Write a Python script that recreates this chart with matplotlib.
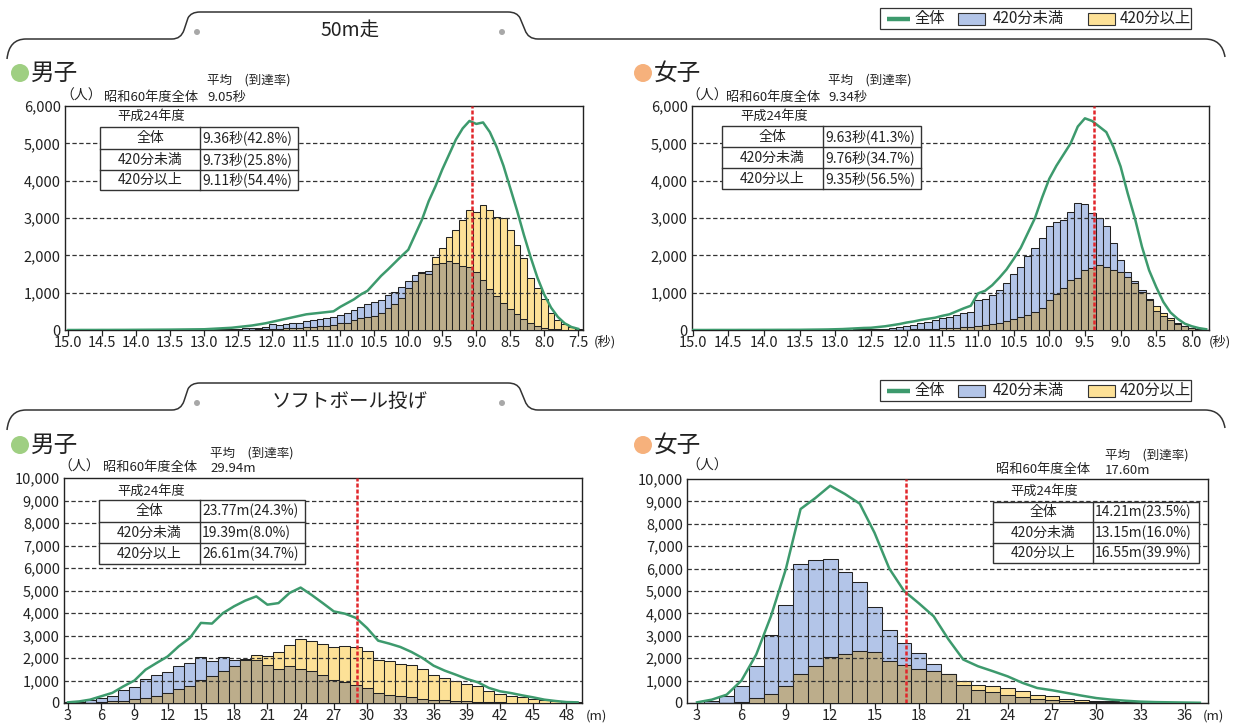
import numpy as np
import matplotlib
matplotlib.use("Agg")
import matplotlib.pyplot as plt
from matplotlib.patches import Rectangle, Circle, PathPatch
from matplotlib.path import Path
from matplotlib.ticker import FuncFormatter

plt.rcParams["font.family"] = ["Noto Sans CJK JP", "DejaVu Sans"]

W, H = 1233, 727

# ---- 50m走 (秒, 0.1秒刻み) ----
run_m_time = [15.0, 14.9, 14.8, 14.7, 14.6, 14.5, 14.4, 14.3, 14.2, 14.1,
              14.0, 13.9, 13.8, 13.7, 13.6,
              13.5, 13.4, 13.3, 13.2, 13.1, 13.0, 12.9, 12.8, 12.7, 12.6,
              12.5, 12.4, 12.3, 12.2, 12.1, 12.0, 11.9, 11.8, 11.7, 11.6,
              11.5, 11.4, 11.3, 11.2, 11.1, 11.0, 10.9, 10.8, 10.7, 10.6,
              10.5, 10.4, 10.3, 10.2, 10.1, 10.0, 9.9, 9.8, 9.7, 9.6,
              9.5, 9.4, 9.3, 9.2, 9.1, 9.0, 8.9, 8.8, 8.7, 8.6,
              8.5, 8.4, 8.3, 8.2, 8.1, 8.0, 7.9, 7.8, 7.7, 7.6, 7.5]
run_m_under = [0, 0, 0, 0, 0, 0, 1, 1, 1, 1,
               2, 2, 3, 3, 4,
               5, 6, 8, 10, 12, 15, 18, 22, 26, 30,
               35, 42, 50, 65, 85, 150, 130, 150, 180, 200,
               250, 270, 300, 330, 360, 400, 450, 540, 610, 700,
               760, 800, 940, 1030, 1140, 1300, 1470, 1560, 1590, 1780,
               1800, 1850, 1790, 1720, 1700, 1550, 1350, 1100, 920, 720,
               560, 420, 300, 190, 110, 60, 30, 20, 10, 5, 0]
run_m_over = [0, 0, 0, 0, 0, 0, 0, 0, 0, 0,
              0, 0, 0, 0, 0,
              0, 0, 1, 1, 2, 2, 3, 4, 5, 6,
              8, 10, 12, 15, 20, 40, 35, 45, 55, 65,
              75, 85, 95, 110, 130, 180, 200, 270, 310, 360,
              380, 450, 580, 700, 850, 1120, 1300, 1520, 1500, 1960,
              2190, 2500, 2680, 2950, 3210, 3170, 3350, 3210, 3040, 3000,
              2680, 2280, 1920, 1380, 1120, 820, 450, 270, 160, 90, 40]
run_m_total = [0, 0, 1, 1, 1, 2, 2, 3, 3, 4,
               5, 6, 7, 8, 9,
               10, 12, 14, 16, 18, 20, 30, 40, 50, 60,
               80, 100, 120, 150, 180, 220, 260, 300, 340, 380,
               420, 440, 460, 480, 500, 620, 720, 820, 950, 1050,
               1250, 1450, 1620, 1800, 1980, 2150, 2550, 2950, 3450, 3850,
               4300, 4700, 5100, 5400, 5600, 5520, 5560, 5300, 4900, 4400,
               3800, 3200, 2550, 1950, 1400, 950, 600, 350, 180, 80, 30]

run_f_time = [15.0, 14.9, 14.8, 14.7, 14.6, 14.5, 14.4, 14.3, 14.2, 14.1,
              14.0, 13.9, 13.8, 13.7, 13.6,
              13.5, 13.4, 13.3, 13.2, 13.1, 13.0, 12.9, 12.8, 12.7, 12.6,
              12.5, 12.4, 12.3, 12.2, 12.1, 12.0, 11.9, 11.8, 11.7, 11.6,
              11.5, 11.4, 11.3, 11.2, 11.1, 11.0, 10.9, 10.8, 10.7, 10.6,
              10.5, 10.4, 10.3, 10.2, 10.1, 10.0, 9.9, 9.8, 9.7, 9.6,
              9.5, 9.4, 9.3, 9.2, 9.1, 9.0, 8.9, 8.8, 8.7, 8.6,
              8.5, 8.4, 8.3, 8.2, 8.1, 8.0, 7.9, 7.8]
run_f_under = [0, 0, 0, 0, 0, 0, 0, 0, 0, 1,
               1, 1, 1, 2, 2,
               2, 3, 4, 5, 6, 8, 10, 12, 14, 16,
               20, 30, 40, 50, 70, 100, 130, 180, 220, 270,
               310, 360, 400, 450, 490, 800, 820, 940, 1070, 1250,
               1500, 1680, 1980, 2190, 2460, 2790, 2900, 2950, 3170, 3410,
               3380, 3130, 3000, 2790, 2320, 1880, 1560, 1300, 1070, 800,
               520, 380, 260, 160, 100, 50, 25, 10]
run_f_over = [0, 0, 0, 0, 0, 0, 0, 0, 0, 0,
              0, 0, 0, 0, 0,
              0, 0, 0, 1, 1, 1, 2, 2, 3, 3,
              4, 5, 6, 8, 10, 12, 15, 20, 25, 35,
              45, 55, 65, 75, 90, 110, 130, 150, 190, 240,
              290, 340, 400, 490, 580, 800, 960, 1120, 1340, 1380,
              1600, 1650, 1740, 1700, 1600, 1560, 1430, 1270, 1030, 820,
              640, 450, 310, 200, 120, 60, 35, 12]
run_f_total = [0, 0, 0, 1, 1, 1, 1, 2, 2, 2,
               3, 3, 4, 4, 5,
               5, 8, 10, 12, 15, 20, 25, 35, 45, 55,
               60, 80, 100, 130, 160, 200, 230, 270, 300, 330,
               380, 420, 500, 580, 650, 980, 1050, 1200, 1400, 1620,
               1900, 2200, 2600, 3000, 3550, 4050, 4400, 4700, 5000, 5450,
               5670, 5600, 5450, 5300, 4900, 4380, 3660, 3000, 2230, 1600,
               1150, 750, 470, 300, 170, 100, 50, 20]

# ---- ソフトボール投げ (m, 1m刻み) ----
ball_m_dist = list(range(3, 50))
ball_m_under = [30, 60, 120, 220, 300, 560, 710, 1080, 1230, 1360,
                1630, 1800, 2040, 1880, 2040, 1930, 1930, 1930, 1700, 1530,
                1630, 1510, 1410, 1230, 1030, 920, 810, 670, 440, 370,
                300, 250, 180, 150, 120, 90, 70, 55, 40, 30,
                20, 15, 10, 8, 5, 3, 2]
ball_m_over = [5, 10, 20, 40, 70, 110, 160, 220, 300, 440,
               620, 770, 1040, 1190, 1410, 1630, 1960, 2150, 2070, 2250,
               2560, 2840, 2740, 2640, 2470, 2520, 2470, 2330, 1900, 1850,
               1750, 1670, 1530, 1260, 1110, 1000, 860, 740, 520, 410,
               330, 250, 190, 150, 100, 70, 40]
ball_m_total = [30, 70, 150, 300, 450, 740, 1000, 1480, 1780, 2070,
                2520, 2890, 3560, 3530, 4000, 4300, 4550, 4740, 4370, 4440,
                4890, 5130, 4800, 4440, 4070, 3970, 3780, 3330, 2770, 2640,
                2490, 2270, 2000, 1660, 1440, 1260, 1070, 920, 670, 520,
                440, 340, 250, 150, 90, 40, 30]

ball_f_dist = list(range(3, 38))
ball_f_under = [20, 100, 330, 780, 1640, 3030, 4360, 6190, 6390, 6420,
                5870, 5420, 4300, 3280, 2660, 2210, 1720, 1300, 820, 600,
                480, 370, 250, 180, 130, 90, 60, 40, 30, 20,
                10, 10, 5, 3, 0]
ball_f_over = [0, 10, 20, 40, 220, 420, 780, 1310, 1670, 2060,
               2190, 2340, 2270, 1870, 1690, 1540, 1450, 1290, 970, 820,
               750, 670, 520, 370, 300, 190, 150, 100, 70, 40,
               30, 20, 10, 10, 0]
ball_f_total = [30, 150, 370, 1000, 2160, 3880, 5970, 8660, 9150, 9700,
                9330, 8900, 7600, 6000, 5000, 4450, 3870, 2840, 1940, 1640,
                1420, 1190, 900, 670, 570, 450, 330, 220, 150, 100,
                60, 40, 30, 20, 10]

# 昭和60年度全体の平均 (赤線の位置)
avg_lines = [9.06, 9.37, 29.1, 17.1]
avg_texts = ["9.05秒", "9.34秒", "29.94m", "17.60m"]

table_rows = ["全体", "420分未満", "420分以上"]
run_m_table = ["9.36秒(42.8%)", "9.73秒(25.8%)", "9.11秒(54.4%)"]
run_f_table = ["9.63秒(41.3%)", "9.76秒(34.7%)", "9.35秒(56.5%)"]
ball_m_table = ["23.77m(24.3%)", "19.39m(8.0%)", "26.61m(34.7%)"]
ball_f_table = ["14.21m(23.5%)", "13.15m(16.0%)", "16.55m(39.9%)"]

BLUE = "#b3c5e8"
YELLOW = "#fde197"
TAN = "#bcad8b"
GREEN = "#3d9a6d"
RED = "#e1262b"
EDGE = "#222222"
TXT = "#222222"

fig = plt.figure(figsize=(W / 100, H / 100), dpi=100)


def px_axes(l, t, r, b):
    return fig.add_axes([l / W, 1 - b / H, (r - l) / W, (b - t) / H])


def draw_hist(ax, x, under, over, total, width, avg, xlim, ymax, xticks, fmt):
    under = np.array(under)
    over = np.array(over)
    ax.bar(x, under, width, color=BLUE, edgecolor=EDGE, linewidth=0.75, zorder=2)
    ax.bar(x, over, width, color=YELLOW, edgecolor=EDGE, linewidth=0.75, zorder=3)
    ax.bar(x, np.minimum(under, over), width, color=TAN, edgecolor=EDGE,
           linewidth=0.75, zorder=4)
    for yv in range(1000, ymax, 1000):
        ax.axhline(yv, color="#333333", lw=0.9, ls=(0, (3.5, 2)), zorder=4.5)
    ax.plot(x, total, color=GREEN, lw=1.8, zorder=5)
    ax.axvline(avg, color=RED, ls=(0, (1.6, 0.8)), lw=1.8, zorder=6)
    ax.set_xlim(*xlim)
    ax.set_ylim(0, ymax)
    ax.set_yticks(range(0, ymax + 1, 1000))
    ax.yaxis.set_major_formatter(FuncFormatter(lambda v, p: f"{int(v):,}"))
    ax.set_xticks(xticks)
    ax.xaxis.set_major_formatter(FuncFormatter(fmt))
    ax.tick_params(axis="y", length=0, labelsize=10.5, pad=3, colors=TXT)
    ax.tick_params(axis="x", length=4, width=0.9, direction="out",
                   labelsize=10.5, pad=0.5, colors=TXT)
    for s in ax.spines.values():
        s.set_linewidth(1.0)
        s.set_color(TXT)


ax1 = px_axes(65, 106, 583, 330)
draw_hist(ax1, run_m_time, run_m_under, run_m_over, run_m_total, 0.1,
          avg_lines[0], (15.05, 7.43), 6000, np.arange(15.0, 7.4, -0.5),
          lambda v, p: f"{v:.1f}")

ax2 = px_axes(692, 106, 1209, 330)
draw_hist(ax2, run_f_time, run_f_under, run_f_over, run_f_total, 0.1,
          avg_lines[1], (15.01, 7.76), 6000, np.arange(15.0, 7.9, -0.5),
          lambda v, p: f"{v:.1f}")

ax3 = px_axes(64, 478, 582, 703)
draw_hist(ax3, ball_m_dist, ball_m_under, ball_m_over, ball_m_total, 1.0,
          avg_lines[2], (2.64, 49.4), 10000, range(3, 49, 3),
          lambda v, p: f"{int(v)}")

ax4 = px_axes(687, 479, 1208, 703)
draw_hist(ax4, ball_f_dist, ball_f_under, ball_f_over, ball_f_total, 1.0,
          avg_lines[3], (2.32, 37.55), 10000, range(3, 37, 3),
          lambda v, p: f"{int(v)}")

# 全体を覆う装飾用の軸 (ピクセル座標)
ax0 = fig.add_axes([0, 0, 1, 1])
ax0.set_xlim(0, W)
ax0.set_ylim(H, 0)
ax0.axis("off")
ax0.set_zorder(10)


def header(y0, title):
    # タブ型の見出し線
    y1 = y0 + 27
    verts = [(7, y1 + 20), (9, y1), (26, y1),
             (172, y1),
             (181, y1), (184, y1 - 9),
             (188, y0 + 6), (191, y0), (200, y0),
             (508, y0), (517, y0), (520, y0 + 6),
             (525, y1 - 9), (528, y1), (538, y1),
             (1205, y1), (1222, y1), (1225, y1 + 18)]
    codes = [Path.MOVETO, Path.CURVE3, Path.CURVE3,
             Path.LINETO,
             Path.CURVE3, Path.CURVE3,
             Path.LINETO, Path.CURVE3, Path.CURVE3,
             Path.LINETO, Path.CURVE3, Path.CURVE3,
             Path.LINETO, Path.CURVE3, Path.CURVE3,
             Path.LINETO, Path.CURVE3, Path.CURVE3]
    ax0.add_patch(PathPatch(Path(verts, codes), fill=False, lw=1.1,
                            edgecolor="#333333"))
    ax0.add_patch(Circle((197, y0 + 20), 3, color="#a8a8a8", lw=0))
    ax0.add_patch(Circle((502, y0 + 20), 3, color="#a8a8a8", lw=0))
    ax0.text(350, y0 + 18, title, fontsize=14, ha="center", va="center",
             color=TXT)


def legend_box(y):
    ax0.add_patch(Rectangle((880, y), 311, 21, fill=False, lw=0.9,
                            edgecolor="#333333"))
    yc = y + 10.5
    ax0.plot([887, 910], [yc, yc], color=GREEN, lw=3.2,
             solid_capstyle="butt")
    ax0.text(914, yc, "全体", fontsize=11, va="center", color=TXT)
    ax0.add_patch(Rectangle((958, yc - 6), 27, 12, facecolor=BLUE,
                            edgecolor="#333333", lw=0.8))
    ax0.text(993, yc, "420分未満", fontsize=11, va="center", color=TXT)
    ax0.add_patch(Rectangle((1088, yc - 6), 27, 12, facecolor=YELLOW,
                            edgecolor="#333333", lw=0.8))
    ax0.text(1120, yc, "420分以上", fontsize=11, va="center", color=TXT)


def sex_label(x, y, text, color):
    ax0.add_patch(Circle((x, y), 9, color=color, lw=0))
    ax0.text(x + 11, y, text, fontsize=17, va="center", color=TXT)


def table(left, split, right, rows, head_x, head_y, values):
    ax0.text(head_x, head_y, "平成24年度", fontsize=9.5, va="center",
             color=TXT)
    ax0.add_patch(Rectangle((left, rows[0]), right - left, rows[-1] - rows[0],
                            facecolor="white", edgecolor="#333333", lw=1.0))
    for yy in rows[1:-1]:
        ax0.plot([left, right], [yy, yy], color="#333333", lw=1.0)
    ax0.plot([split, split], [rows[0], rows[-1]], color="#333333", lw=1.0)
    for i in range(3):
        yc = (rows[i] + rows[i + 1]) / 2
        ax0.text((left + split) / 2, yc, table_rows[i], fontsize=10,
                 ha="center", va="center", color=TXT)
        ax0.text(split + 2, yc, values[i], fontsize=10, ha="left",
                 va="center", color=TXT)


def avg_note(x_head, y_head, x_unit, y_unit, x_label, avg_text):
    ax0.text(x_head, y_head, "平均　(到達率)", fontsize=9, va="center",
             color=TXT)
    ax0.text(x_unit, y_unit, "（人）", fontsize=10, va="center", color=TXT)
    ax0.text(x_label, y_unit + 1, "昭和60年度全体", fontsize=9.5,
             va="center", color=TXT)
    ax0.text(x_head, y_unit + 1, avg_text, fontsize=9.5, va="center",
             color=TXT)


header(12, "50m走")
header(383, "ソフトボール投げ")
legend_box(8)
legend_box(380)

sex_label(20, 73, "男子", "#9fcf82")
sex_label(643, 73, "女子", "#f6b17c")
sex_label(20, 445, "男子", "#9fcf82")
sex_label(643, 445, "女子", "#f6b17c")

avg_note(207, 80, 60, 96, 104, avg_texts[0])
avg_note(828, 80, 686, 96, 726, avg_texts[1])
avg_note(210, 453, 58, 467, 103, avg_texts[2])
ax0.text(1105, 455, "平均　(到達率)", fontsize=9, va="center", color=TXT)
ax0.text(686, 466, "（人）", fontsize=10, va="center", color=TXT)
ax0.text(996, 470, "昭和60年度全体", fontsize=9.5, va="center", color=TXT)
ax0.text(1105, 470, avg_texts[3], fontsize=9.5, va="center", color=TXT)

table(100, 200, 298, [127, 149, 170, 190], 117, 116, run_m_table)
table(722, 823, 921, [126, 147, 168, 189], 740, 116, run_f_table)
table(99, 200, 305, [500, 522, 543, 564], 117, 491, ball_m_table)
table(993, 1093, 1199, [502, 522, 543, 563], 1010, 491, ball_f_table)

# 単位
ax0.text(594, 342, "(秒)", fontsize=9.5, va="center", color=TXT)
ax0.text(1209, 342, "(秒)", fontsize=9.5, va="center", color=TXT)
ax0.text(586, 716, "(m)", fontsize=9.5, va="center", color=TXT)
ax0.text(1203, 716, "(m)", fontsize=9.5, va="center", color=TXT)

fig.savefig("out.png", dpi=100)
